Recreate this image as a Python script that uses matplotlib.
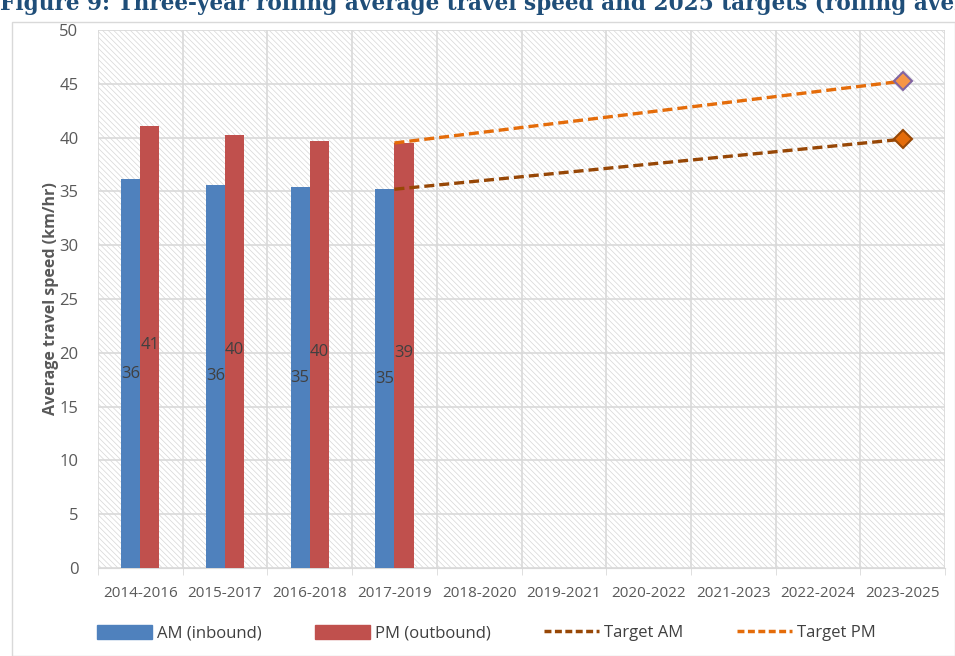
import matplotlib
matplotlib.use("Agg")
import matplotlib.pyplot as plt
import numpy as np
from matplotlib.patches import Rectangle, Patch
from matplotlib.lines import Line2D

categories = ["2014-2016", "2015-2017", "2016-2018", "2017-2019", "2018-2020",
              "2019-2021", "2020-2022", "2021-2023", "2022-2024", "2023-2025"]
am_inbound = [36.15, 35.6, 35.4, 35.2]
pm_outbound = [41.05, 40.2, 39.7, 39.5]
am_labels = ["36", "36", "35", "35"]
pm_labels = ["41", "40", "40", "39"]
target_am = [35.2, 39.85]
target_pm = [39.5, 45.25]
target_idx = [3, 9]
yticks = [0, 5, 10, 15, 20, 25, 30, 35, 40, 45, 50]

plt.rcParams['font.family'] = ['Open Sans', 'DejaVu Sans']
plt.rcParams['hatch.linewidth'] = 0.5

fig = plt.figure(figsize=(9.55, 6.56), dpi=100)
fig.patches.append(Rectangle((12/955, 0), (955-12)/955, 1-22/656, transform=fig.transFigure,
                             fill=False, edgecolor='#d9d9d9', linewidth=1))
ax = fig.add_axes([98/955, 1-568/656, (945-98)/955, (568-30)/656])

n = len(categories)
ax.set_xlim(-0.5, n-0.5)
ax.set_ylim(0, 50)
ax.add_patch(Rectangle((0, 0), 1, 1, transform=ax.transAxes, facecolor='white',
                       edgecolor='#d6d6d6', linewidth=0, hatch='\\\\\\\\\\\\', zorder=0))
for y in yticks:
    ax.axhline(y, color='#d9d9d9', lw=1.2, zorder=1)
for b in np.arange(-0.5, n, 1.0):
    ax.axvline(b, color='#d9d9d9', lw=1.2, zorder=1)

w = 0.225
x = np.arange(len(am_inbound))
ax.bar(x - w/2, am_inbound, width=w, color='#4F81BD', zorder=3)
ax.bar(x + w/2, pm_outbound, width=w, color='#C0504D', zorder=3)
for i in range(len(am_inbound)):
    ax.text(x[i]-w/2, am_inbound[i]/2, am_labels[i], ha='center', va='center',
            fontsize=12, color='#404040', zorder=5)
    ax.text(x[i]+w/2, pm_outbound[i]/2 + 0.2, pm_labels[i], ha='center', va='center',
            fontsize=12, color='#404040', zorder=5)

ax.plot(target_idx, target_am, ls=(0, (3, 1.5)), lw=2.4, color='#974706', zorder=4)
ax.plot(target_idx[-1], target_am[-1], marker='D', ms=9, mfc='#E46C0A', mec='#974706', mew=1.5, zorder=6)
ax.plot(target_idx, target_pm, ls=(0, (3, 1.5)), lw=2.4, color='#E46C0A', zorder=4)
ax.plot(target_idx[-1], target_pm[-1], marker='D', ms=9, mfc='#F79646', mec='#8064A2', mew=1.5, zorder=6)

for s in ['top', 'right', 'left']:
    ax.spines[s].set_visible(False)
ax.spines['bottom'].set_color('#d9d9d9')
ax.set_yticks(yticks)
ax.tick_params(axis='y', length=0, labelsize=12, labelcolor='#595959', pad=14)
ax.set_xticks(range(n))
ax.set_xticklabels(categories)
ax.tick_params(axis='x', length=0, labelsize=11, labelcolor='#595959', pad=13)
ax.set_xticks(np.arange(-0.5, n, 1.0), minor=True)
ax.tick_params(axis='x', which='minor', length=5, color='#d9d9d9')
ax.set_ylabel('Average travel speed (km/hr)', fontsize=11.5, fontweight='bold', color='#595959', labelpad=0)

handles = [Patch(color='#4F81BD'), Patch(color='#C0504D'),
           Line2D([], [], ls=(0, (2, 1)), lw=2.5, color='#974706'),
           Line2D([], [], ls=(0, (2, 1)), lw=2.5, color='#E46C0A')]
labels = ['AM (inbound)', 'PM (outbound)', 'Target AM', 'Target PM']
fig.legend(handles, labels, loc='center', bbox_to_anchor=(0.509, 1-633/656), ncol=4,
           frameon=False, fontsize=12, labelcolor='#404040', handlelength=3.3,
           handleheight=0.9, columnspacing=3.2, handletextpad=0.3)

fig.text(0.0, 1.0 - 4/656, 'Figure 9: Three-year rolling average travel speed and 2025 targets (rolling average)',
         fontsize=15.6, fontweight='bold', color='#1F4E79', family='DejaVu Serif',
         ha='left', va='center')

fig.savefig('out.png', dpi=100)
